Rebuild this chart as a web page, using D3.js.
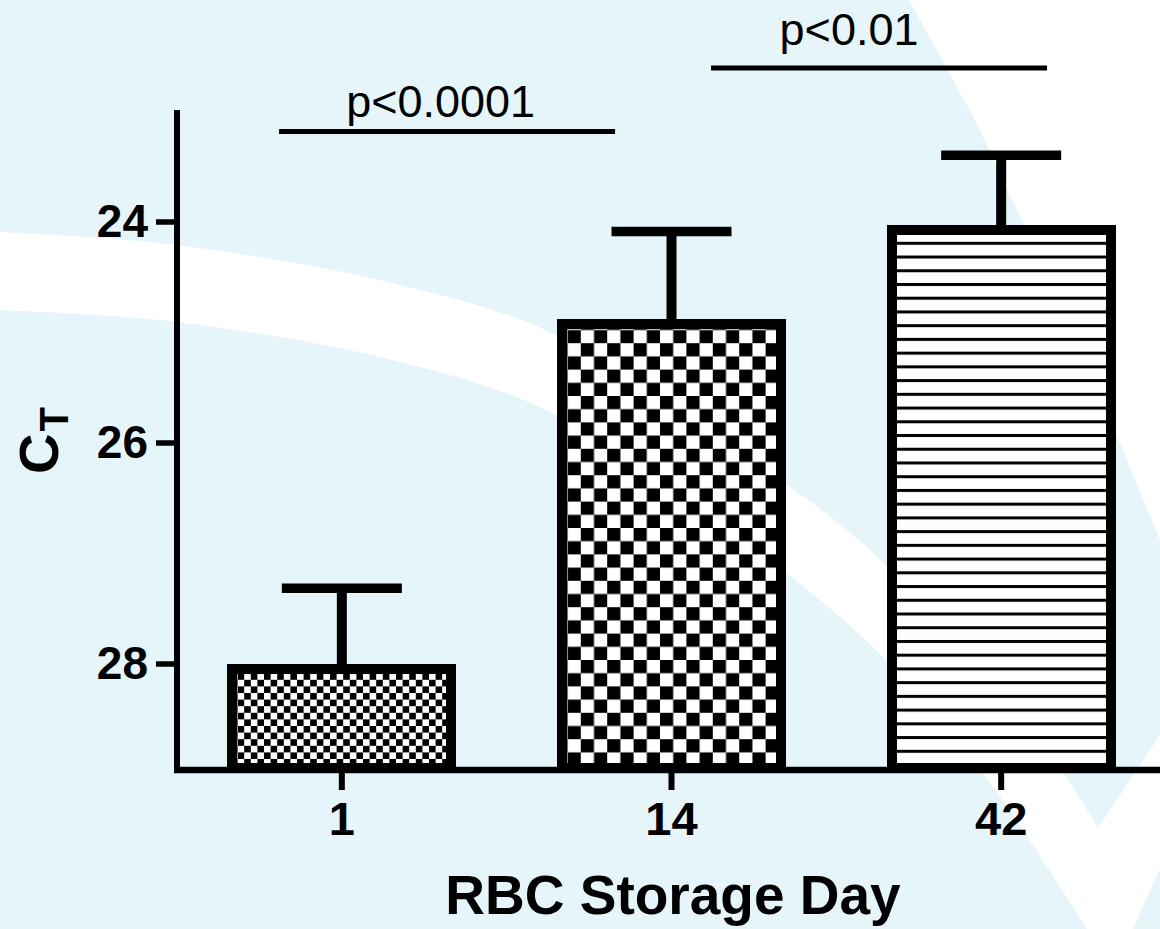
<!DOCTYPE html>
<html>
<head>
<meta charset="utf-8">
<script src="https://cdn.jsdelivr.net/npm/d3@7"></script>
<style>
  html, body { margin: 0; padding: 0; background: #e5f5f9; }
  svg { display: block; }
  text { font-family: "Liberation Sans", Arial, Helvetica, sans-serif; }
</style>
</head>
<body>
<svg id="chart" width="1160" height="929"></svg>
<script>
// ---- data ----
const days = ["1", "14", "42"];
const meanCt = [28.05, 24.93, 24.08];
const semCt = [0.73, 0.84, 0.68];
const barFills = ["checkFine", "checkCoarse", "hStripes"];
const yTickValues = [24, 26, 28];
const yDomain = [23, 29];
const compPairs = [["1", "14"], ["14", "42"]];
const compLabels = ["p<0.0001", "p<0.01"];
const xTitle = "RBC Storage Day";
const yTitleMain = "C";
const yTitleSub = "T";

// ---- setup ----
const W = 1160, H = 929;
const svg = d3.select("#chart");
const ink = "#000";

const x = d3.scaleBand().domain(days).range([177, 1166])
  .paddingInner(0.336).paddingOuter(0.168);
const y = d3.scaleLinear().domain(yDomain).range([111, 774]);

// ---- background watermark ----
const bg = svg.append("g");
bg.append("rect").attr("width", W).attr("height", H).attr("fill", "#e5f5f9");

const curve = d3.line().curve(d3.curveCatmullRom.alpha(0.5));
const upperEdge = [[-20, 231], [0, 232], [177, 245], [400, 285], [556, 335],
  [786, 484], [886, 565], [1000, 700], [1063, 773], [1098, 828]];
const lowerEdge = [[1087, 929], [983, 773], [886, 660], [786, 573],
  [556, 415], [400, 362], [177, 322], [0, 310], [-20, 309]];
const swoosh = curve(upperEdge) +
  "L1190,690L1240,690L1133,929" +
  curve(lowerEdge).replace(/^M/, "L") + "Z";
bg.append("path").attr("d", swoosh).attr("fill", "#fff");

bg.append("path")
  .attr("d", "M908,-2L1162,-2L1162,545L1100,395L1023,223L975,120Z")
  .attr("fill", "#fff");

// ---- fill patterns ----
const defs = svg.append("defs");
function checker(id, cell) {
  const p = defs.append("pattern").attr("id", id)
    .attr("patternUnits", "userSpaceOnUse")
    .attr("width", cell * 2).attr("height", cell * 2);
  p.append("rect").attr("width", cell * 2).attr("height", cell * 2).attr("fill", "#fff");
  p.append("rect").attr("width", cell).attr("height", cell).attr("fill", ink);
  p.append("rect").attr("x", cell).attr("y", cell).attr("width", cell).attr("height", cell).attr("fill", ink);
}
checker("checkFine", 6.6);
checker("checkCoarse", 13.2);
const stripes = defs.append("pattern").attr("id", "hStripes")
  .attr("patternUnits", "userSpaceOnUse")
  .attr("y", 241.8).attr("width", 20).attr("height", 13.73);
stripes.append("rect").attr("width", 20).attr("height", 13.73).attr("fill", "#fff");
stripes.append("rect").attr("width", 20).attr("height", 3).attr("fill", ink);

// ---- bars with error bars ----
const baseY = 768;
const bars = svg.append("g");
days.forEach((d, i) => {
  const x0 = x(d), bw = x.bandwidth(), cx = x0 + bw / 2;
  const top = y(meanCt[i]);
  const errTop = y(meanCt[i] - semCt[i]);
  bars.append("line")
    .attr("x1", cx).attr("x2", cx).attr("y1", top).attr("y2", errTop)
    .attr("stroke", ink).attr("stroke-width", 10);
  bars.append("line")
    .attr("x1", cx - 60).attr("x2", cx + 60).attr("y1", errTop).attr("y2", errTop)
    .attr("stroke", ink).attr("stroke-width", 9.5);
  bars.append("rect")
    .attr("x", x0).attr("y", top).attr("width", bw).attr("height", baseY - top)
    .attr("fill", `url(#${barFills[i]})`)
    .attr("stroke", ink).attr("stroke-width", 10)
    .attr("shape-rendering", "crispEdges");
});

// ---- axes ----
const yAxis = svg.append("g").attr("transform", "translate(177,0)")
  .call(d3.axisLeft(y).tickValues(yTickValues).tickFormat(d3.format("d"))
    .tickSize(21).tickSizeOuter(0).tickPadding(8));
yAxis.select(".domain").attr("stroke", ink).attr("stroke-width", 6)
  .attr("d", `M0,${y(yDomain[0]) - 1}V773`);
yAxis.selectAll(".tick line").attr("stroke", ink).attr("stroke-width", 5.5);
yAxis.selectAll(".tick text").attr("fill", ink)
  .attr("font-size", 46).attr("font-weight", "bold");

const xAxis = svg.append("g").attr("transform", "translate(0,770)")
  .call(d3.axisBottom(x).tickSize(20).tickSizeOuter(0).tickPadding(12));
xAxis.select(".domain").attr("stroke", ink).attr("stroke-width", 6.5)
  .attr("d", "M174,0H1170");
xAxis.selectAll(".tick line").attr("stroke", ink).attr("stroke-width", 6);
xAxis.selectAll(".tick text").attr("fill", ink)
  .attr("font-size", 47).attr("font-weight", "bold");

// ---- comparison brackets ----
const compLayout = [
  { lineY: 131.5, dx: -59.6, textDx: -66, textY: 116.5 },
  { lineY: 68, dx: 42.7, textDx: 12.7, textY: 45 }
];
const halfLen = 168;
const comps = svg.append("g");
compPairs.forEach((pair, i) => {
  const c1 = x(pair[0]) + x.bandwidth() / 2;
  const c2 = x(pair[1]) + x.bandwidth() / 2;
  const mid = (c1 + c2) / 2, L = compLayout[i];
  comps.append("line")
    .attr("x1", mid + L.dx - halfLen).attr("x2", mid + L.dx + halfLen)
    .attr("y1", L.lineY).attr("y2", L.lineY)
    .attr("stroke", ink).attr("stroke-width", 4.8);
  comps.append("text")
    .attr("x", mid + L.textDx).attr("y", L.textY)
    .attr("text-anchor", "middle").attr("font-size", 45).attr("fill", ink)
    .text(compLabels[i]);
});

// ---- axis titles ----
svg.append("text")
  .attr("x", 673).attr("y", 914)
  .attr("text-anchor", "middle").attr("font-size", 55).attr("font-weight", "bold")
  .attr("fill", ink).text(xTitle);

const yt = svg.append("text")
  .attr("transform", "translate(58,474) rotate(-90)")
  .attr("font-weight", "bold").attr("fill", ink);
yt.append("tspan").attr("font-size", 56).text(yTitleMain);
yt.append("tspan").attr("font-size", 40).attr("dy", 10).attr("dx", 2).text(yTitleSub);
</script>
</body>
</html>
